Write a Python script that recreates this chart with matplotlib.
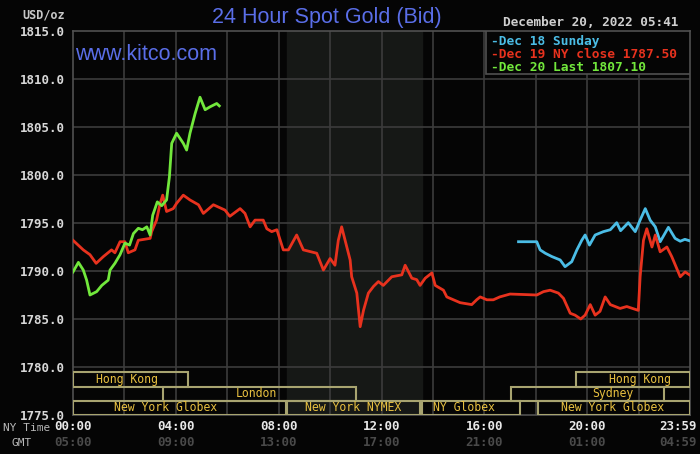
import matplotlib
matplotlib.use("Agg")
import matplotlib.pyplot as plt
from matplotlib.patches import Rectangle

# hours after NY midnight, price in USD/oz
dec18_hours = [17.33, 18.04, 18.17, 18.37, 18.63, 18.95, 19.14, 19.4, 19.6, 19.79, 19.92,
               20.09, 20.31, 20.63, 20.9, 21.15, 21.3, 21.6, 21.87, 22.06, 22.26, 22.45,
               22.65, 22.84, 23.16, 23.42, 23.62, 23.8, 23.98]
dec18_price = [1793.05, 1793.05, 1792.2, 1791.85, 1791.5, 1791.15, 1790.45, 1790.97, 1792.2,
               1793.2, 1793.75, 1792.7, 1793.75, 1794.1, 1794.3, 1795.03, 1794.2, 1795.03,
               1794.1, 1795.3, 1796.5, 1795.3, 1794.6, 1793.05, 1794.55, 1793.4, 1793.1,
               1793.3, 1793.15]

dec19_hours = [0.0, 0.4, 0.66, 0.9, 1.18, 1.5, 1.63, 1.83, 2.02, 2.15, 2.41, 2.54, 3.0, 3.06,
               3.25, 3.39, 3.49, 3.64, 3.9, 4.03, 4.29, 4.55, 4.88, 5.07, 5.46, 5.91, 6.1,
               6.5, 6.69, 6.89, 7.08, 7.4, 7.54, 7.73, 7.93, 8.18, 8.38, 8.7, 8.96, 9.48,
               9.74, 10.0, 10.19, 10.32, 10.45, 10.78, 10.84, 11.04, 11.17, 11.3, 11.49,
               11.69, 11.88, 12.07, 12.4, 12.79, 12.92, 13.18, 13.37, 13.5, 13.7, 13.96,
               14.09, 14.41, 14.54, 14.8, 15.06, 15.51, 15.7, 15.84, 16.1, 16.35, 16.6,
               17.0, 18.04, 18.3, 18.56, 18.88, 19.08, 19.34, 19.53, 19.75, 19.92, 20.12,
               20.31, 20.5, 20.7, 20.9, 21.28, 21.54, 21.99, 22.06, 22.19, 22.32, 22.52,
               22.65, 22.84, 23.1, 23.29, 23.62, 23.81, 23.98]
dec19_price = [1793.2, 1792.2, 1791.7, 1790.8, 1791.5, 1792.2, 1791.9, 1793.05, 1793.05,
               1791.9, 1792.2, 1793.2, 1793.4, 1794.1, 1795.3, 1797.05, 1797.9, 1796.2,
               1796.5, 1797.05, 1797.9, 1797.4, 1796.9, 1796.0, 1796.9, 1796.35, 1795.7,
               1796.5, 1796.0, 1794.6, 1795.3, 1795.3, 1794.4, 1794.1, 1794.3, 1792.2,
               1792.2, 1793.75, 1792.2, 1791.85, 1790.1, 1791.3, 1790.6, 1793.2, 1794.6,
               1791.15, 1789.4, 1787.7, 1784.2, 1785.9, 1787.7, 1788.4, 1788.9, 1788.5,
               1789.4, 1789.6, 1790.6, 1789.25, 1789.1, 1788.5, 1789.25, 1789.8, 1788.5,
               1788.0, 1787.3, 1787.0, 1786.7, 1786.5, 1787.0, 1787.3, 1787.0, 1787.0,
               1787.3, 1787.6, 1787.5, 1787.85, 1788.0, 1787.7, 1787.15, 1785.6, 1785.4,
               1785.0, 1785.4, 1786.5, 1785.4, 1785.8, 1787.3, 1786.5, 1786.1, 1786.3,
               1785.9, 1789.4, 1793.2, 1794.4, 1792.5, 1793.75, 1792.0, 1792.5, 1791.5,
               1789.4, 1789.9, 1789.6]

dec20_hours = [0.0, 0.21, 0.4, 0.53, 0.66, 0.92, 1.12, 1.37, 1.44, 1.63, 1.83, 2.02, 2.2,
               2.35, 2.54, 2.7, 2.87, 3.0, 3.1, 3.28, 3.45, 3.64, 3.75, 3.84, 4.03, 4.29,
               4.42, 4.55, 4.75, 4.94, 5.14, 5.33, 5.59, 5.69]
dec20_price = [1789.9, 1790.9, 1790.1, 1789.05, 1787.5, 1787.85, 1788.5, 1789.05, 1790.1,
               1790.8, 1791.7, 1792.9, 1792.7, 1793.9, 1794.45, 1794.3, 1794.6, 1793.75,
               1795.8, 1797.2, 1796.8, 1797.4, 1799.8, 1803.3, 1804.35, 1803.3, 1802.6,
               1804.35, 1806.4, 1808.1, 1806.8, 1807.1, 1807.45, 1807.2]

legend_labels = ["Dec 18 Sunday", "Dec 19 NY close 1787.50", "Dec 20 Last 1807.10"]

ny_ticks = ["00:00", "04:00", "08:00", "12:00", "16:00", "20:00", "23:59"]
gmt_ticks = ["05:00", "09:00", "13:00", "17:00", "21:00", "01:00", "04:59"]
tick_hours = [0, 4, 8, 12, 16, 20, 24]

# trading sessions: name, start, end, row (0 = bottom), label centre
session_names = ["New York Globex", "New York NYMEX", "NY Globex", "New York Globex",
                 "London", "Sydney", "Hong Kong", "Hong Kong"]
session_start = [0.0, 8.33, 13.58, 18.1, 3.5, 17.04, 0.0, 19.57]
session_end = [8.29, 13.5, 17.4, 24.0, 11.0, 23.0, 4.47, 24.0]
session_row = [0, 0, 0, 0, 1, 1, 2, 2]
session_label_x = [3.6, 10.9, 15.2, 21.0, 7.15, 21.0, 2.1, 22.05]

nymex_open, nymex_close = 8.33, 13.58

BG = "#050505"
GRID = "#3c3c3c"
BLUE = "#4bbde6"
RED = "#e8321e"
GREEN = "#72e83c"
GOLD = "#e8c040"
BAR_EDGE = "#a8a470"
MONO = "DejaVu Sans Mono"

fig = plt.figure(figsize=(7, 4.54), dpi=100, facecolor=BG)
ax = fig.add_axes([73 / 700, 1 - 415 / 454, 617 / 700, 384 / 454], facecolor=BG)

ax.set_xlim(0, 24)
ax.set_ylim(1775, 1815)
ax.axvspan(nymex_open, nymex_close, color="#161816", zorder=0)

for h in range(2, 24, 2):
    ax.axvline(h, color=GRID, lw=1.2, zorder=1)
for v in range(1780, 1815, 5):
    ax.axhline(v, color=GRID, lw=1.2, zorder=1)
for s in ax.spines.values():
    s.set_color("#505050")
    s.set_linewidth(1.2)

ax.plot(dec18_hours, dec18_price, color=BLUE, lw=2, zorder=3)
ax.plot(dec19_hours, dec19_price, color=RED, lw=2, zorder=3)
ax.plot(dec20_hours, dec20_price, color=GREEN, lw=2, zorder=4)

row_bottom = [1775.0, 1776.47, 1777.95]
row_h = 1.48
for name, x0, x1, r, lx in zip(session_names, session_start, session_end,
                               session_row, session_label_x):
    ax.add_patch(Rectangle((x0, row_bottom[r]), x1 - x0, row_h, fill=False,
                           ec=BAR_EDGE, lw=1.5, zorder=5))
    ax.text(lx, row_bottom[r] + row_h / 2, name, color=GOLD, fontsize=8.3,
            family=MONO, ha="center", va="center", zorder=6)

# y ticks
ax.set_yticks(range(1775, 1816, 5))
ax.set_yticklabels([f"{v:.1f}" for v in range(1775, 1816, 5)], family=MONO,
                   fontsize=9, fontweight="bold", color="#d8d8d8")
ax.set_xticks([])
ax.tick_params(axis="y", length=0, pad=6)

# x tick labels, two rows
for h, ny, gmt in zip(tick_hours, ny_ticks, gmt_ticks):
    ha = "center"
    if h == 24:
        h, ha = 24.27, "right"
    ax.text(h, -0.03, ny, transform=ax.get_xaxis_transform(), ha=ha, va="center",
            family=MONO, fontsize=9, fontweight="bold", color="#e8e8e8")
    ax.text(h, -0.072, gmt, transform=ax.get_xaxis_transform(), ha=ha, va="center",
            family=MONO, fontsize=9, fontweight="bold", color="#4a4a4a")
fig.text(3 / 700, 1 - 428 / 454, "NY Time", family=MONO, fontsize=8, color="#b8b8b8",
         va="center", ha="left")
fig.text(12 / 700, 1 - 443 / 454, "GMT", family=MONO, fontsize=8, color="#b8b8b8",
         va="center", ha="left")

fig.text(22 / 700, 1 - 15 / 454, "USD/oz", family=MONO, fontsize=8.5, fontweight="bold",
         color="#c8c8c8", va="center", ha="left")
fig.text(327 / 700, 1 - 17 / 454, "24 Hour Spot Gold (Bid)", family="Liberation Sans",
         fontsize=15.5, color="#5a6ee8", ha="center", va="center")
fig.text(75 / 700, 1 - 55 / 454, "www.kitco.com", family="Liberation Sans",
         fontsize=15.5, color="#5a6ee8", ha="left", va="center", zorder=7)
fig.text(678 / 700, 1 - 23 / 454, "December 20, 2022 05:41", family=MONO, fontsize=9.2,
         fontweight="bold", color="#d0d0d0", ha="right", va="center")

# legend box
leg_x0, leg_x1 = (486 - 73) / 617 * 24, 24
ax.add_patch(Rectangle((leg_x0, 1810.5), leg_x1 - leg_x0, 4.5, fc=BG, ec="#505050",
                       lw=1.2, zorder=7))
for i, (txt, col) in enumerate(zip(legend_labels, [BLUE, RED, GREEN])):
    ax.text(leg_x0 + 0.2, 1813.9 - i * 1.35, "-" + txt, color=col, family=MONO,
            fontsize=9.3, fontweight="bold", ha="left", va="center", zorder=8)

fig.savefig("out.png", dpi=100, facecolor=BG)
